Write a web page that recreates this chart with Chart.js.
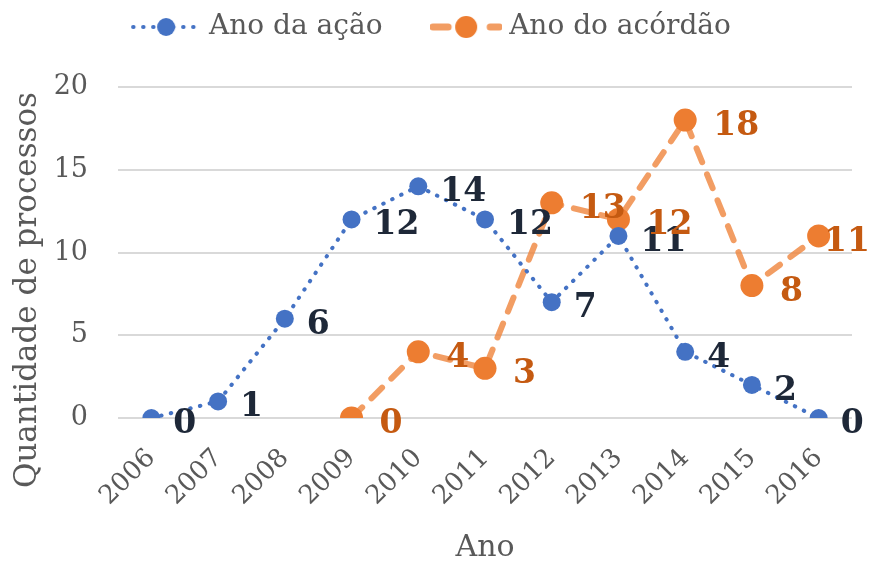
<!DOCTYPE html>
<html>
<head>
<meta charset="utf-8">
<script src="https://cdn.jsdelivr.net/npm/chart.js@4"></script>
<style>
  html, body { margin: 0; padding: 0; background: #fff; }
  #wrap { width: 871px; height: 563px; }
</style>
</head>
<body>
<div id="wrap"><canvas id="myChart" width="871" height="563"></canvas></div>
<script>
const years = ['2006','2007','2008','2009','2010','2011','2012','2013','2014','2015','2016'];
const anoAcao = [0, 1, 6, 12, 14, 12, 7, 11, 4, 2, 0];
const anoAcordao = [null, null, null, 0, 4, 3, 13, 12, 18, 8, 11];
const yTicks = [0, 5, 10, 15, 20];
const yTitle = 'Quantidade de processos';
const xTitle = 'Ano';

const FONT = "'DejaVu Serif', serif";
const BLUE = '#4472c4';
const ORANGE = '#ed7d31';
const ORANGE_LINE = 'rgba(239,132,60,0.8)';
const GREY = '#595959';

// legend symbol: short line with the marker in the middle
function legendIcon(lineColor, dash, width, dotColor, r) {
  const c = document.createElement('canvas');
  c.width = 72; c.height = 26;
  const g = c.getContext('2d');
  g.strokeStyle = lineColor;
  g.lineWidth = width;
  g.lineCap = 'round';
  g.setLineDash(dash);
  g.beginPath(); g.moveTo(3, 13); g.lineTo(69, 13); g.stroke();
  g.fillStyle = dotColor;
  g.beginPath(); g.arc(36, 13, r, 0, Math.PI * 2); g.fill();
  return c;
}

const extras = {
  id: 'extras',
  beforeLayout(chart) {
    // leave room between the legend and the plot
    const lg = chart.legend;
    if (lg && !lg._extra) {
      const fit = lg.fit.bind(lg);
      lg.fit = function () { fit(); this.height += 36; };
      lg._extra = true;
    }
  },
  afterDraw(chart) {
    const ctx = chart.ctx;
    // y axis title (sits a bit lower than the plot centre, like the original)
    ctx.save();
    ctx.translate(28, 290);
    ctx.rotate(-Math.PI / 2);
    ctx.font = '31px ' + FONT;
    ctx.fillStyle = GREY;
    ctx.textAlign = 'center';
    ctx.textBaseline = 'middle';
    ctx.fillText(yTitle, 0, 0);
    ctx.restore();
  },
  afterDatasetsDraw(chart) {
    const ctx = chart.ctx;
    ctx.save();
    ctx.font = 'bold 33px ' + FONT;
    ctx.textAlign = 'left';
    ctx.textBaseline = 'alphabetic';
    chart.data.datasets.forEach((ds, i) => {
      const meta = chart.getDatasetMeta(i);
      ctx.fillStyle = ds.labelColor;
      meta.data.forEach((pt, j) => {
        const v = ds.data[j];
        if (v === null || v === undefined) return;
        const s = String(v);
        const w = ctx.measureText(s).width;
        let x = pt.x + ds.labelGap;
        if (x + w > chart.width - 1) x = chart.width - 1 - w;
        ctx.fillText(s, x, pt.y + 15);
      });
    });
    ctx.restore();
  }
};

const ctx = document.getElementById('myChart').getContext('2d');
const myChart = new Chart(ctx, {
  type: 'line',
  data: {
    labels: years,
    datasets: [
      {
        label: 'Ano da ação',
        data: anoAcao,
        borderColor: BLUE,
        backgroundColor: BLUE,
        borderWidth: 4,
        borderDash: [0.5, 9.5],
        borderCapStyle: 'round',
        pointRadius: 9,
        pointHoverRadius: 9,
        pointBorderWidth: 0,
        labelColor: '#1e2838',
        labelGap: 22,
        legendIcon: legendIcon(BLUE, [0.5, 9.5], 4, BLUE, 9),
        fill: false
      },
      {
        label: 'Ano do acórdão',
        data: anoAcordao,
        borderColor: ORANGE_LINE,
        backgroundColor: ORANGE,
        pointBackgroundColor: ORANGE,
        borderWidth: 6,
        borderDash: [15, 13],
        borderCapStyle: 'round',
        pointRadius: 11.5,
        pointHoverRadius: 11.5,
        pointBorderWidth: 0,
        labelColor: '#c55a11',
        labelGap: 28,
        legendIcon: legendIcon(ORANGE_LINE, [15, 42], 7, ORANGE, 11),
        fill: false
      }
    ]
  },
  options: {
    responsive: false,
    animation: false,
    layout: { padding: { left: 16, right: 19, top: 6, bottom: 0 } },
    plugins: {
      legend: {
        position: 'top',
        labels: {
          usePointStyle: true,
          pointStyleWidth: 58,
          color: GREY,
          font: { family: FONT, size: 28 },
          padding: 7,
          generateLabels(chart) {
            return chart.data.datasets.map((ds, i) => ({
              // trailing spaces widen the gap between the two entries
              text: i === 0 ? ds.label + '\u2003\u2002\u2009' : ds.label,
              pointStyle: ds.legendIcon,
              fillStyle: ds.backgroundColor,
              strokeStyle: ds.borderColor,
              lineWidth: 0,
              hidden: false,
              datasetIndex: i,
              fontColor: GREY
            }));
          }
        }
      },
      tooltip: { enabled: false }
    },
    scales: {
      x: {
        offset: true,
        grid: { display: false },
        border: { display: false },
        ticks: {
          color: GREY,
          font: { family: FONT, size: 26 },
          minRotation: 45,
          maxRotation: 45,
          padding: 17
        },
        title: {
          display: true,
          text: xTitle,
          color: GREY,
          font: { family: FONT, size: 30 },
          padding: { top: 0, bottom: -3 }
        },
        afterFit(scale) { scale.height = 145; }
      },
      y: {
        min: 0,
        max: 20,
        afterBuildTicks(scale) { scale.ticks = yTicks.map(v => ({ value: v })); },
        grid: { color: '#d9d9d9', lineWidth: 2, drawTicks: false },
        border: { display: false },
        ticks: {
          color: GREY,
          font: { family: FONT, size: 27 },
          padding: 30
        },
        afterFit(scale) { scale.width = 102; }
      }
    }
  },
  plugins: [extras]
});
</script>
</body>
</html>
